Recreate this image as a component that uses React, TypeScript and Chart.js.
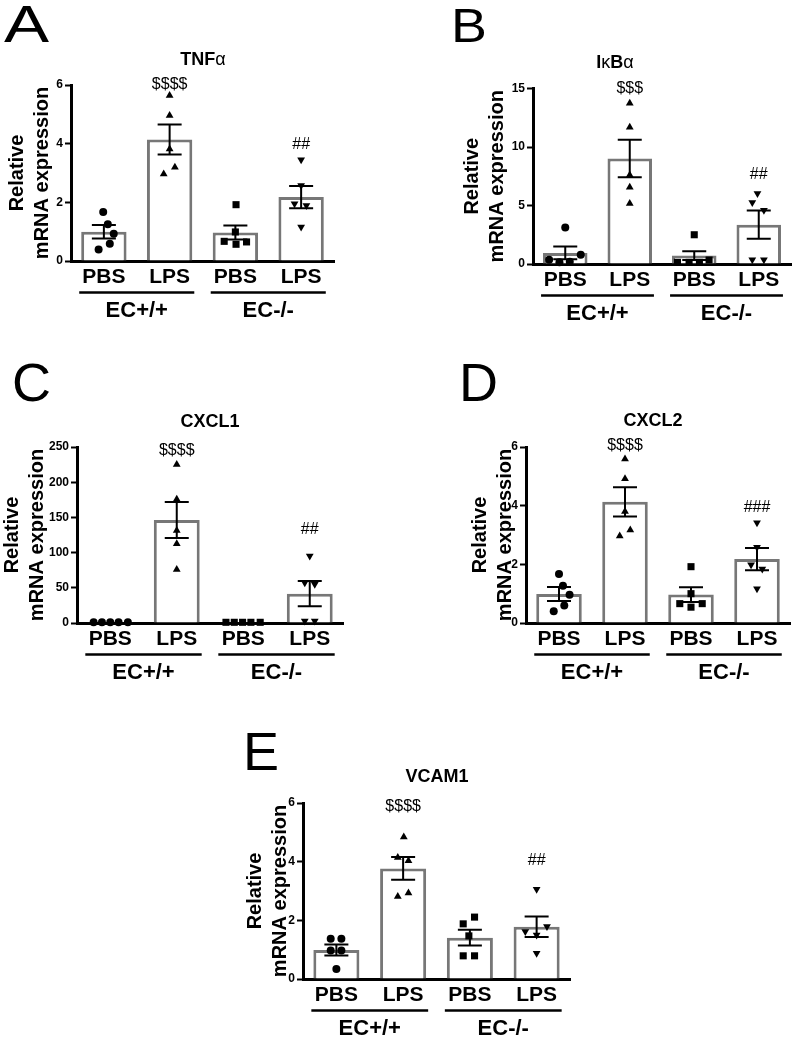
import React, { useEffect, useRef } from 'react';
import { Chart, registerables } from 'chart.js';

Chart.register(...registerables);

const FONT = '"Liberation Sans", Arial, Helvetica, sans-serif';
Chart.defaults.font.family = FONT;

// ---------- shared categories ----------
const categories = ['PBS', 'LPS', 'PBS', 'LPS'];
const groupLabels = ['EC+/+', 'EC-/-'];
const markerStyles = ['circle', 'triangle', 'rect', 'triangle'];
const markerRotation = [0, 0, 0, 180];
const markerRadius = [4, 4.5, 5, 4.5];
const yAxisTitle = ['Relative', 'mRNA expression'];

// ---------- A: TNFα ----------
const tnfMeans = [1.0, 4.14, 0.97, 2.18];
const tnfSems = [0.23, 0.51, 0.24, 0.38];
const tnfPoints = [
  [1.67, 1.25, 0.93, 0.59, 0.39],
  [5.64, 4.96, 3.82, 2.97, 3.2],
  [1.92, 0.99, 0.67, 0.57, 0.65],
  [3.45, 2.57, 1.95, 1.89, 1.16],
];
const tnfJitter = [
  [-0.01, 0.06, 0.15, 0.09, -0.08],
  [0, 0, 0, -0.09, 0.08],
  [0.01, 0, -0.17, 0.01, 0.17],
  [0, 0, -0.1, 0.08, 0],
];
const tnfSig = ['', '$$$$', '', '##'];
const tnfSigAt = [0, 5.83, 0, 3.77];

// ---------- B: IκBα ----------
const ikbMeans = [0.95, 9.02, 0.72, 3.36];
const ikbSems = [0.54, 1.6, 0.37, 1.21];
const ikbPoints = [
  [3.13, 0.8, 0.37, 0.14, 0.2],
  [13.73, 11.69, 7.61, 6.55, 5.17],
  [2.5, 0.14, 0.14, 0.14, 0.34],
  [6.03, 5.26, 4.6, 0.37, 0.37],
];
const ikbJitter = [
  [0, 0.24, -0.25, -0.09, 0.07],
  [0, 0, 0, 0, 0],
  [0, -0.26, -0.08, 0.08, 0.23],
  [-0.02, -0.1, 0.08, -0.1, 0.08],
];
const ikbSig = ['', '$$$', '', '##'];
const ikbSigAt = [0, 14.5, 0, 7.18];

// ---------- C: CXCL1 ----------
const cxcl1Means = [1, 146.3, 1, 41.7];
const cxcl1Sems = [0, 25.7, 0, 18];
const cxcl1Points = [
  [1, 1, 1, 1, 1],
  [225, 175.9, 131.3, 112.6, 76],
  [1, 1, 1, 1, 1],
  [95, 57, 55, 3, 3],
];
const cxcl1Jitter = [
  [-0.25, -0.125, 0, 0.125, 0.265],
  [0, 0, 0, 0, 0],
  [-0.26, -0.135, -0.01, 0.115, 0.255],
  [0, -0.075, 0.075, -0.075, 0.075],
];
const cxcl1Sig = ['', '$$$$', '', '##'];
const cxcl1SigAt = [0, 236.8, 0, 125.6];

// ---------- D: CXCL2 ----------
const cxcl2Means = [0.99, 4.13, 0.97, 2.18];
const cxcl2Sems = [0.24, 0.5, 0.25, 0.38];
const cxcl2Points = [
  [1.67, 1.27, 0.96, 0.6, 0.4],
  [5.59, 4.92, 3.8, 2.97, 3.17],
  [1.92, 1.0, 0.66, 0.54, 0.66],
  [3.42, 2.58, 1.99, 1.84, 1.17],
];
const cxcl2Jitter = [
  [0, 0.06, 0.16, 0.08, -0.08],
  [0, 0, 0, -0.08, 0.08],
  [0, 0, -0.17, 0, 0.17],
  [0, 0, -0.09, 0.08, 0],
];
const cxcl2Sig = ['', '$$$$', '', '###'];
const cxcl2SigAt = [0, 5.85, 0, 3.76];

// ---------- E: VCAM1 ----------
const vcamMeans = [0.99, 3.77, 1.41, 1.78];
const vcamSems = [0.19, 0.39, 0.27, 0.35];
const vcamPoints = [
  [1.37, 1.37, 0.97, 0.97, 0.34],
  [4.84, 4.14, 4.03, 2.81, 2.93],
  [2.11, 1.88, 1.47, 0.79, 0.79],
  [3.06, 1.79, 1.62, 1.5, 0.88],
];
const vcamJitter = [
  [-0.085, 0.075, -0.085, 0.075, 0],
  [0.01, -0.08, 0.08, -0.08, 0.08],
  [0.07, -0.1, -0.015, -0.1, 0.07],
  [0, 0.155, -0.17, 0, 0],
];
const vcamSig = ['', '$$$$', '', '##'];
const vcamSigAt = [0, 5.68, 0, 3.86];

type Seg = [string, boolean];
type Panel = {
  letter: string;
  title: Seg[];
  yMax: number;
  yStep: number;
  means: number[];
  sems: number[];
  points: number[][];
  jitter: number[][];
  sig: string[];
  sigAt: number[];
  box: { left: number; top: number; width: number; height: number };
  area: { l: number; t: number; r: number; b: number };
  yTitleX: number;
  titleX: number;
  titleY: number;
  letterX: number;
  letterY: number;
  letterSize: number;
  letterScaleX: number;
};

const panels: Panel[] = [
  {
    letter: 'A', title: [['TNF', true], ['α', false]], yMax: 6, yStep: 2,
    means: tnfMeans, sems: tnfSems, points: tnfPoints, jitter: tnfJitter, sig: tnfSig, sigAt: tnfSigAt,
    box: { left: 0, top: 0, width: 400, height: 330 }, area: { l: 71, t: 85, r: 334, b: 261 },
    yTitleX: 17, titleX: 203, titleY: 60, letterX: 4, letterY: 42, letterSize: 52, letterScaleX: 1.3,
  },
  {
    letter: 'B', title: [['I', true], ['κ', false], ['B', true], ['α', false]], yMax: 15, yStep: 5,
    means: ikbMeans, sems: ikbSems, points: ikbPoints, jitter: ikbJitter, sig: ikbSig, sigAt: ikbSigAt,
    box: { left: 400, top: 0, width: 400, height: 330 }, area: { l: 133, t: 88.5, r: 391, b: 264 },
    yTitleX: 72, titleX: 215, titleY: 63, letterX: 51, letterY: 42, letterSize: 48, letterScaleX: 1.12,
  },
  {
    letter: 'C', title: [['CXCL1', true]], yMax: 250, yStep: 50,
    means: cxcl1Means, sems: cxcl1Sems, points: cxcl1Points, jitter: cxcl1Jitter, sig: cxcl1Sig, sigAt: cxcl1SigAt,
    box: { left: 0, top: 330, width: 400, height: 360 }, area: { l: 77, t: 117, r: 343, b: 293 },
    yTitleX: 12, titleX: 210, titleY: 92, letterX: 12, letterY: 71, letterSize: 54, letterScaleX: 1,
  },
  {
    letter: 'D', title: [['CXCL2', true]], yMax: 6, yStep: 2,
    means: cxcl2Means, sems: cxcl2Sems, points: cxcl2Points, jitter: cxcl2Jitter, sig: cxcl2Sig, sigAt: cxcl2SigAt,
    box: { left: 400, top: 330, width: 400, height: 360 }, area: { l: 126, t: 117, r: 390, b: 293 },
    yTitleX: 80, titleX: 253, titleY: 91, letterX: 59, letterY: 71, letterSize: 54, letterScaleX: 1,
  },
  {
    letter: 'E', title: [['VCAM1', true]], yMax: 6, yStep: 2,
    means: vcamMeans, sems: vcamSems, points: vcamPoints, jitter: vcamJitter, sig: vcamSig, sigAt: vcamSigAt,
    box: { left: 200, top: 690, width: 400, height: 347 }, area: { l: 103, t: 113, r: 370, b: 289 },
    yTitleX: 55, titleX: 237, titleY: 87, letterX: 43, letterY: 80, letterSize: 54, letterScaleX: 1,
  },
];

function makeDecor(p: Panel) {
  return {
    id: 'decor' + p.letter,
    afterDatasetDraw(chart: any, args: any) {
      if (args.meta.type !== 'bar') return;
      const xs = chart.scales.xs;
      const y = chart.scales.y;
      const ctx = chart.ctx;
      ctx.save();
      ctx.strokeStyle = '#000';
      ctx.lineWidth = 2;
      p.means.forEach((m, i) => {
        const s = p.sems[i];
        if (!s) return;
        const x = xs.getPixelForValue(i);
        const yt = y.getPixelForValue(m + s);
        const yb = y.getPixelForValue(Math.max(0, m - s));
        ctx.beginPath();
        ctx.moveTo(x, yt);
        ctx.lineTo(x, yb);
        ctx.moveTo(x - 12, yt);
        ctx.lineTo(x + 12, yt);
        ctx.moveTo(x - 12, yb);
        ctx.lineTo(x + 12, yb);
        ctx.stroke();
      });
      ctx.restore();
    },
    afterDraw(chart: any) {
      const ctx = chart.ctx;
      const xs = chart.scales.xs;
      const y = chart.scales.y;
      const ca = chart.chartArea;
      ctx.save();
      ctx.fillStyle = '#000';
      // panel letter
      ctx.textAlign = 'left';
      ctx.textBaseline = 'alphabetic';
      ctx.font = `${p.letterSize}px ${FONT}`;
      ctx.save();
      ctx.translate(p.letterX, p.letterY);
      ctx.scale(p.letterScaleX, 1);
      ctx.fillText(p.letter, 0, 0);
      ctx.restore();
      // title
      ctx.textBaseline = 'middle';
      const fontFor = (bold: boolean) => (bold ? `bold 18px ${FONT}` : `18px ${FONT}`);
      let total = 0;
      p.title.forEach(([t, b]) => {
        ctx.font = fontFor(b);
        total += ctx.measureText(t).width;
      });
      let tx = p.titleX - total / 2;
      p.title.forEach(([t, b]) => {
        ctx.font = fontFor(b);
        ctx.fillText(t, tx, p.titleY);
        tx += ctx.measureText(t).width;
      });
      // significance labels
      ctx.font = `16px ${FONT}`;
      ctx.textAlign = 'center';
      ctx.textBaseline = 'alphabetic';
      p.sig.forEach((s, i) => {
        if (!s) return;
        ctx.fillText(s, xs.getPixelForValue(i), y.getPixelForValue(p.sigAt[i]) - 1);
      });
      // group underlines and labels
      ctx.strokeStyle = '#000';
      ctx.lineWidth = 2.5;
      groupLabels.forEach((g, gi) => {
        const c = gi * 2 + 0.5;
        const x1 = xs.getPixelForValue(c - 0.875);
        const x2 = xs.getPixelForValue(c + 0.875);
        const yl = ca.bottom + 31.5;
        ctx.beginPath();
        ctx.moveTo(x1, yl);
        ctx.lineTo(x2, yl);
        ctx.stroke();
        ctx.font = `bold 22px ${FONT}`;
        ctx.textBaseline = 'middle';
        ctx.fillText(g, (x1 + x2) / 2, ca.bottom + 49.5);
      });
      ctx.restore();
    },
  };
}

function PanelChart({ p }: { p: Panel }) {
  const ref = useRef<HTMLCanvasElement>(null);
  useEffect(() => {
    const canvas = ref.current;
    if (!canvas) return;
    const W = p.box.width;
    const H = p.box.height;
    const a = p.area;
    const scatterSets = p.points.map((vals, g) => ({
      type: 'scatter' as const,
      data: vals.map((v, k) => ({ x: g + p.jitter[g][k], y: v })),
      xAxisID: 'xs',
      yAxisID: 'y',
      pointStyle: markerStyles[g],
      pointRotation: markerRotation[g],
      pointRadius: markerRadius[g],
      pointBackgroundColor: '#000',
      pointBorderColor: '#000',
      pointBorderWidth: 0,
      showLine: false,
      clip: false as any,
      order: 1,
    }));
    const chart = new Chart(canvas, {
      type: 'bar',
      data: {
        labels: categories,
        datasets: [
          {
            type: 'bar',
            data: p.means,
            backgroundColor: '#ffffff',
            borderColor: '#777777',
            borderWidth: 3,
            grouped: false,
            barPercentage: 0.69,
            categoryPercentage: 1,
            order: 2,
            xAxisID: 'x',
            yAxisID: 'y',
          } as any,
          ...(scatterSets as any[]),
        ],
      },
      options: {
        responsive: false,
        animation: false,
        events: [],
        layout: { padding: { left: 0, top: a.t, right: W - a.r, bottom: 0 } },
        plugins: { legend: { display: false }, tooltip: { enabled: false }, title: { display: false } },
        scales: {
          x: {
            type: 'category',
            offset: true,
            grid: { display: false, drawTicks: false },
            border: { display: true, color: '#000', width: 3 },
            ticks: { color: '#000', font: { size: 21, weight: 'bold' }, padding: 4, maxRotation: 0, autoSkip: false },
            afterFit: (s: any) => { s.height = H - a.b; },
          },
          xs: { type: 'linear', display: false, offset: false, grace: 0, min: -0.5, max: 3.5, bounds: 'ticks' },
          y: {
            type: 'linear',
            min: 0,
            max: p.yMax,
            ticks: { stepSize: p.yStep, color: '#000', font: { size: 12, weight: 'bold' }, padding: 2 },
            grid: { drawOnChartArea: false, drawTicks: true, tickLength: 6, tickColor: '#000', tickWidth: 2 },
            border: { display: true, color: '#000', width: 3 },
            title: {
              display: true,
              text: yAxisTitle,
              color: '#000',
              font: { size: 20, weight: 'bold', lineHeight: 1.25 },
              padding: { top: p.yTitleX - 12.5, bottom: 0 },
            },
            afterFit: (s: any) => { s.width = a.l; },
          },
        } as any,
      },
      plugins: [makeDecor(p)],
    } as any);
    return () => chart.destroy();
  }, [p]);
  return (
    <canvas
      ref={ref}
      width={p.box.width}
      height={p.box.height}
      style={{
        position: 'absolute',
        left: p.box.left,
        top: p.box.top,
        width: p.box.width,
        height: p.box.height,
      }}
    />
  );
}

export default function App() {
  return (
    <div style={{ position: 'absolute', left: 0, top: 0, width: 800, height: 1037, background: '#fff', overflow: 'hidden' }}>
      {panels.map((p) => (
        <PanelChart key={p.letter} p={p} />
      ))}
    </div>
  );
}
